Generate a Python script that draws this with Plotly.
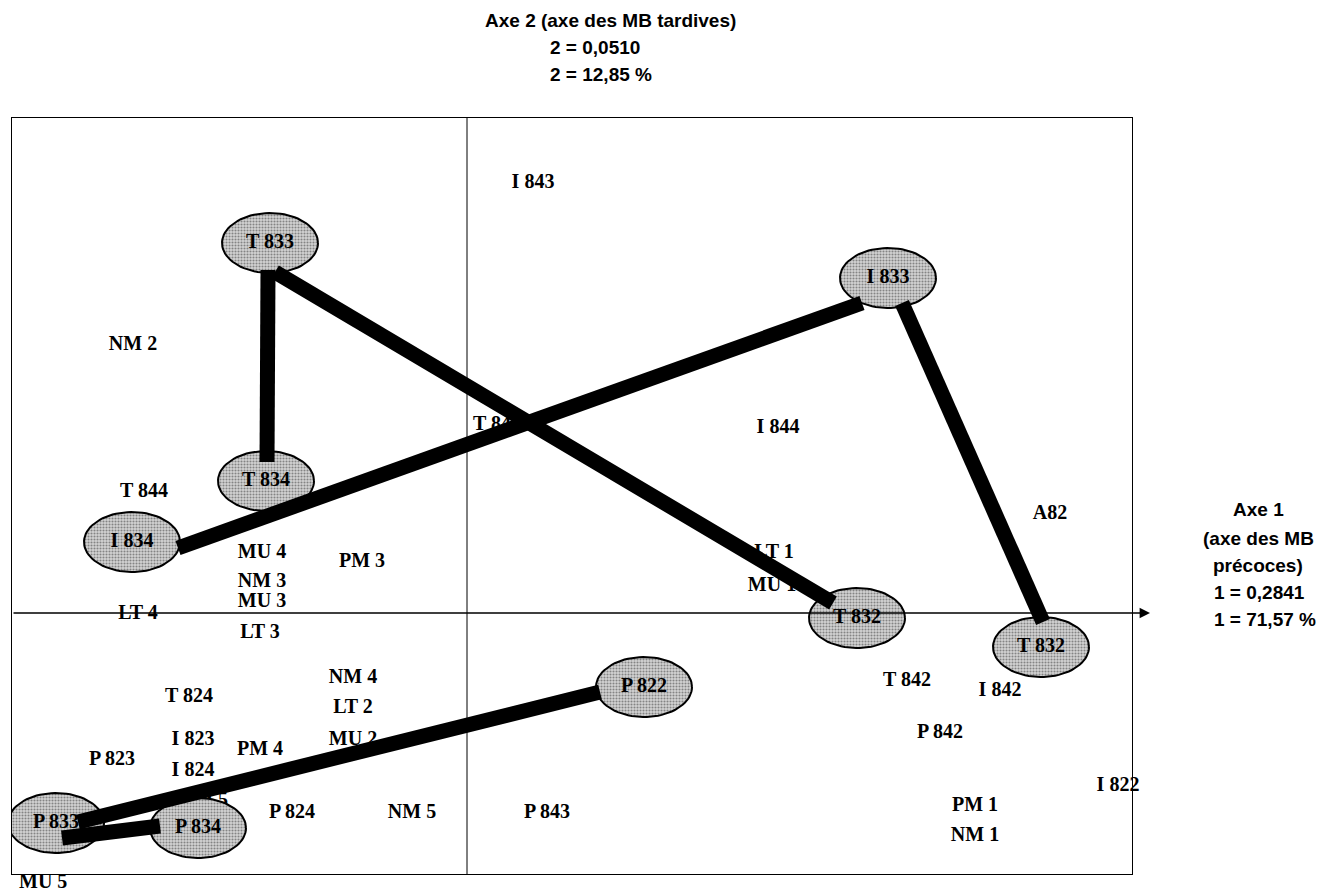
import numpy as np
import plotly.graph_objects as go

# ---- Free modality labels: coordinates on axis 1 (x) and axis 2 (y) ----
label_text = ["I 843", "NM 2", "T 843", "I 844", "T 844", "A82", "MU 4", "PM 3",
              "NM 3", "MU 3", "LT 4", "LT 3", "LT 1", "MU 1", "T 842", "I 842",
              "P 842", "I 822", "PM 1", "NM 1", "NM 4", "LT 2", "MU 2", "T 824",
              "I 823", "I 824", "PM 4", "P 823", "PM 5", "P 824", "NM 5", "P 843", "MU 5"]
label_x = [0.165, -0.835, 0.075, 0.7775, -0.8075, 1.4575, -0.5125, -0.2625,
           -0.5125, -0.5125, -0.8225, -0.5175, 0.7675, 0.7625, 1.10, 1.3325,
           1.1825, 1.6275, 1.27, 1.27, -0.285, -0.285, -0.285, -0.695,
           -0.685, -0.685, -0.5175, -0.8875, -0.655, -0.4375, -0.1375, 0.20, -1.06]
label_y = [1.075, 0.67, 0.47, 0.4625, 0.3025, 0.2475, 0.15, 0.1275,
           0.0775, 0.0275, -0.0025, -0.05, 0.15, 0.0675, -0.17, -0.195,
           -0.30, -0.4325, -0.4825, -0.5575, -0.1625, -0.2375, -0.3175, -0.21,
           -0.3175, -0.395, -0.3425, -0.3675, -0.47, -0.50, -0.50, -0.50, -0.67]

# ---- Highlighted (circled) modalities ----
ellipse_text = ["T 833", "T 834", "I 834", "I 833", "T 832", "T 832", "P 822", "P 833", "P 834"]
ellipse_x = [-0.4925, -0.5025, -0.8375, 1.0525, 0.975, 1.435, 0.4425, -1.0275, -0.6725]
ellipse_y = [0.925, 0.33, 0.1775, 0.8375, -0.0125, -0.085, -0.185, -0.525, -0.5375]

# ---- Trajectory segments (start -> end) ----
seg_x0 = [-0.4975, -0.48, -0.7225, 1.0875, -0.9725, -1.0125]
seg_y0 = [0.8575, 0.8525, 0.1625, 0.775, -0.5225, -0.5625]
seg_x1 = [-0.50, 0.915, 0.9875, 1.44, 0.3325, -0.7675]
seg_y1 = [0.3775, 0.025, 0.775, -0.0225, -0.1975, -0.5325]

# ---- Axis titles ----
axis2_lines = ["Axe 2 (axe des MB tardives)", "2 = 0,0510", "2 = 12,85 %"]
axis1_lines = ["Axe 1", "(axe des MB", "précoces)", "1 = 0,2841", "1 = 71,57 %"]

X_RANGE = [-1.1375, 1.6625]
Y_RANGE = [-0.6525, 1.2375]
RX, RY = 0.12, 0.075

SERIF = "Liberation Serif, Times New Roman, serif"
SANS = "Liberation Sans, Arial, Helvetica, sans-serif"
label_font = dict(family=SERIF, size=20, color="black", weight="bold")

# labels inside the frame are drawn as a trace (so the thick lines can cover them),
# labels falling below the frame are drawn as paper-referenced annotations
inside = [i for i, yy in enumerate(label_y) if yy >= Y_RANGE[0]]
outside = [i for i, yy in enumerate(label_y) if yy < Y_RANGE[0]]

fig = go.Figure()

fig.add_trace(go.Scatter(
    x=[label_x[i] for i in inside], y=[label_y[i] for i in inside], mode="text",
    text=[label_text[i] for i in inside], textfont=label_font,
    textposition="middle center", cliponaxis=False, hoverinfo="skip"))

# ellipses
t = np.linspace(0, 2 * np.pi, 80)
for cx, cy in zip(ellipse_x, ellipse_y):
    fig.add_trace(go.Scatter(
        x=cx + RX * np.cos(t), y=cy + RY * np.sin(t), mode="lines",
        fill="toself", line=dict(color="black", width=2),
        fillcolor="#cccccc",
        fillpattern=dict(shape=".", fgcolor="#333333", bgcolor="#d4d4d4",
                         size=3, solidity=0.4),
        hoverinfo="skip"))

# thick connecting lines
lx, ly = [], []
for a, b, c, d in zip(seg_x0, seg_y0, seg_x1, seg_y1):
    lx += [a, c, None]
    ly += [b, d, None]
fig.add_trace(go.Scatter(x=lx, y=ly, mode="lines",
                         line=dict(color="black", width=15),
                         hoverinfo="skip"))

# labels inside the ellipses
fig.add_trace(go.Scatter(
    x=ellipse_x, y=ellipse_y, mode="text", text=ellipse_text,
    textfont=label_font, textposition="middle center",
    cliponaxis=False, hoverinfo="skip"))

# vertical axis (axe 2)
fig.add_shape(type="line", x0=0, x1=0, y0=Y_RANGE[0], y1=Y_RANGE[1],
              xref="x", yref="y", line=dict(color="black", width=1), layer="below")

annotations = []
for i in outside:
    px = (label_x[i] - X_RANGE[0]) / (X_RANGE[1] - X_RANGE[0])
    py = (label_y[i] - Y_RANGE[0]) / (Y_RANGE[1] - Y_RANGE[0])
    annotations.append(dict(x=px, y=py, xref="paper", yref="paper",
                            text=label_text[i], showarrow=False, font=label_font,
                            xanchor="center", yanchor="middle"))

# horizontal axis with arrow (axe 1)
annotations.append(dict(x=1.7075, y=0, ax=X_RANGE[0], ay=0, xref="x", yref="y",
                        axref="x", ayref="y", text="", showarrow=True,
                        arrowhead=2, arrowsize=1.6, arrowwidth=1.3, arrowcolor="black"))

# top title
tf = dict(family=SANS, size=19, color="black", weight="bold")
annotations.append(dict(x=0.5348, y=1.1296, xref="paper", yref="paper", text=axis2_lines[0],
                        showarrow=False, xanchor="center", yanchor="middle", font=tf))
for i, yy in zip([1, 2], [1.0939, 1.0569]):
    annotations.append(dict(x=0.4786, y=yy, xref="paper", yref="paper", text=axis2_lines[i],
                            showarrow=False, xanchor="left", yanchor="middle", font=tf))
# right title
for i, yy in zip([0, 1, 2], [0.4815, 0.4444, 0.4087]):
    annotations.append(dict(x=1.1125, y=yy, xref="paper", yref="paper", text=axis1_lines[i],
                            showarrow=False, xanchor="center", yanchor="middle", font=tf))
for i, yy in zip([3, 4], [0.373, 0.336]):
    annotations.append(dict(x=1.0714, y=yy, xref="paper", yref="paper", text=axis1_lines[i],
                            showarrow=False, xanchor="left", yanchor="middle", font=tf))

# the page body adds an 8 px offset, so margins are shifted to compensate
fig.update_layout(
    width=1324, height=888,
    margin=dict(l=4, r=200, t=110, b=22),
    paper_bgcolor="white", plot_bgcolor="white",
    showlegend=False,
    annotations=annotations,
    xaxis=dict(range=X_RANGE, showgrid=False, zeroline=False, showticklabels=False,
               ticks="", showline=True, mirror=True, linecolor="black", linewidth=1),
    yaxis=dict(range=Y_RANGE, showgrid=False, zeroline=False, showticklabels=False,
               ticks="", showline=True, mirror=True, linecolor="black", linewidth=1),
)

fig.write_html("out.html")
